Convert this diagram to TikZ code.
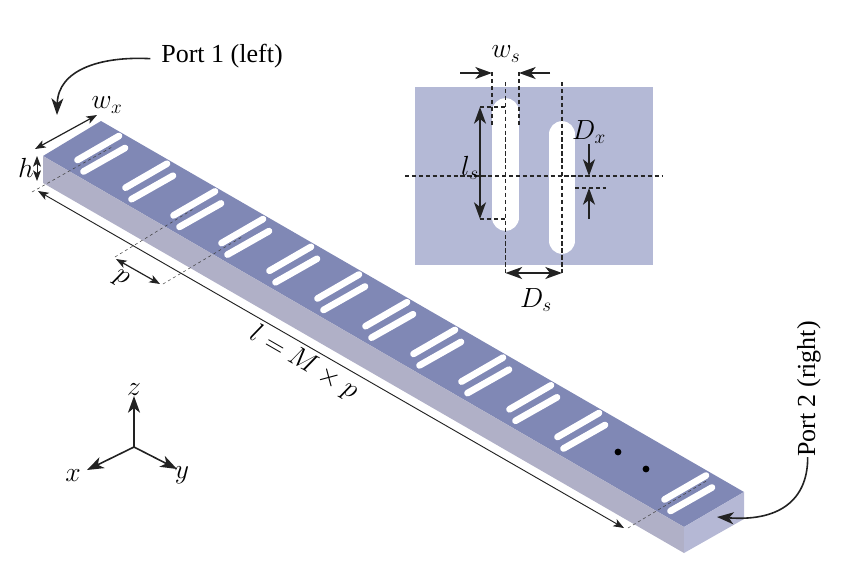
\documentclass[tikz,border=0pt]{standalone}
\usepackage{fontspec}
\setmainfont{Liberation Serif}
\usetikzlibrary{arrows.meta}
\definecolor{topc}{HTML}{8088B5}
\definecolor{leftc}{HTML}{B0B0C7}
\definecolor{rightc}{HTML}{B5B8D5}
\definecolor{insetc}{HTML}{B4B9D6}
\definecolor{inkc}{HTML}{222222}
\tikzset{
  lab/.style={inner sep=0pt,text=black,font=\fontsize{20.74}{24}\selectfont},
  portlab/.style={inner sep=0pt,text=black,font=\fontsize{19.5}{22}\selectfont},
  tip/.style={-{Stealth[length=12.5pt,width=9pt,inset=3.5pt]}},
  dtip/.style={{Stealth[length=12.5pt,width=9pt,inset=3.5pt]}-{Stealth[length=12.5pt,width=9pt,inset=3.5pt]}},
  smalltip/.style={{Stealth[length=8pt,width=6pt,inset=2pt]}-{Stealth[length=8pt,width=6pt,inset=2pt]}},
  fatline/.style={draw=inkc,line width=1.2pt},
  thinline/.style={draw=inkc,line width=0.7pt},
  dim/.style={draw=black!85,line width=0.85pt,dash pattern=on 3.2pt off 2pt},
  faint/.style={draw=black!75,line width=0.4pt,dash pattern=on 2.2pt off 2.2pt},
  slot/.style={draw=white,line width=5pt,line cap=round},
  bigslot/.style={draw=white,line width=20pt,line cap=round},
}
\begin{document}
\begin{tikzpicture}[x=0.75pt,y=-0.75pt]
\useasboundingbox (0,0) rectangle (847,569);
% block
\coordinate (tb) at (101,121);
\coordinate (tl) at (43,156);
\coordinate (tr) at (744,492);
\coordinate (tf) at (684,527);
\coordinate (bl) at (43,183);
\coordinate (bf) at (684,553);
\coordinate (br) at (744,519);
\fill[topc] (tb) -- (tr) -- (tf) -- (tl) -- cycle;
\fill[leftc] (tl) -- (tf) -- (bf) -- (bl) -- cycle;
\fill[rightc] (tf) -- (tr) -- (br) -- (bf) -- cycle;
% slots
\foreach \dx/\dy in {0/0,48/27.7,96/55.4,144/83.1,192/110.8,240/138.5,288/166.2,336/193.9,384/221.6,432/249.3,480/277,587/339.5}{
  \draw[slot] ({77.5+\dx},{160+\dy}) -- ({119+\dx},{136+\dy});
  \draw[slot] ({83.5+\dx},{171.5+\dy}) -- ({125+\dx},{148+\dy});
}
\fill[black] (618,452) circle[radius=3.4];
\fill[black] (646,469) circle[radius=3.4];
% faint guides
\coordinate (g1a) at (32,192); \coordinate (g1b) at (112,147);
\coordinate (g2a) at (115,257); \coordinate (g2b) at (195,208);
\coordinate (g3a) at (163,284); \coordinate (g3b) at (242,237);
\coordinate (g4a) at (628,528); \coordinate (g4b) at (708,480);
\draw[faint] (g1a) -- (g1b);
\draw[faint] (g2a) -- (g2b);
\draw[faint] (g3a) -- (g3b);
\draw[faint] (g4a) -- (g4b);
% dimensions on the block
\coordinate (wa) at (35,149); \coordinate (wb) at (97,115);
\coordinate (ha) at (37,156); \coordinate (hb) at (37,181);
\coordinate (pa) at (116,259); \coordinate (pb) at (160,284);
\coordinate (la) at (38,191); \coordinate (lb) at (624,528);
\draw[thinline,smalltip,line width=0.9pt] (wa) -- (wb);
\draw[thinline,smalltip] (ha) -- (hb);
\draw[thinline,smalltip,line width=0.9pt] (pa) -- (pb);
\draw[thinline,smalltip] (la) -- (lb);
\node[lab] (wxlab) at (107,105) {$w_x$};
\node[lab] (hlab) at (26,168) {$h$};
\node[lab,rotate=-30] (plab) at (121,279) {$p$};
\node[lab,rotate=-30] (llab) at (304,363) {$l = M \times p$};
% ports
\node[portlab] (port1) at (222,56) {Port 1 (left)};
\node[portlab,rotate=90] (port2) at (809,389) {Port 2 (right)};
\coordinate (p1end) at (57,115);
\coordinate (p2end) at (717,517);
\draw[fatline,tip] (port1.west) ++(-8pt,-2pt) coordinate (p1s) .. controls (100,56) and (58,70) .. (p1end);
\draw[fatline,tip] (port2.west) ++(-1pt,0pt) coordinate (p2s) .. controls (808,495) and (785,522) .. (p2end);
% axes
\coordinate (o) at (134,447);
\coordinate (ze) at (134,396);
\coordinate (xe) at (87,470);
\coordinate (ye) at (177,469);
\draw[fatline,tip] (o) -- (ze);
\draw[fatline,tip] (o) -- (xe);
\draw[fatline,tip] (o) -- (ye);
\node[lab] (zlab) at (134,390) {$z$};
\node[lab] (xlab) at (73,476) {$x$};
\node[lab] (ylab) at (182,475) {$y$};
% inset
\fill[insetc] (415,87) rectangle (653,265);
\draw[bigslot] (505.5,111.5) -- (505.5,217.5);
\draw[bigslot] (562,134.5) -- (562,240.5);
\draw[dim] (405,176) -- (663,176);
\coordinate (v1a) at (505.5,82); \coordinate (v1b) at (505.5,273);
\coordinate (v2a) at (562,82); \coordinate (v2b) at (562,273);
\draw[dim] (v1a) -- (v1b);
\draw[dim] (v2a) -- (v2b);
\draw[dim] (492,72) -- (492,126);
\draw[dim] (519,72) -- (519,126);
\draw[dim] (480,107) -- (505.5,107);
\draw[dim] (480,219) -- (505.5,219);
\draw[dim] (575,188) -- (606,188);
\coordinate (wsl) at (460,73); \coordinate (wsr) at (492,73);
\coordinate (wsl2) at (550,73); \coordinate (wsr2) at (519,73);
\draw[fatline,tip] (wsl) -- (wsr);
\draw[fatline,tip] (wsl2) -- (wsr2);
\coordinate (lsa) at (480,107); \coordinate (lsb) at (480,219);
\draw[fatline,dtip] (lsa) -- (lsb);
\draw[fatline,dtip] (v1b) -- (v2b);
\coordinate (dxa) at (589,144); \coordinate (dxb) at (589,176);
\coordinate (dxc) at (589,219); \coordinate (dxd) at (589,188);
\draw[fatline,tip] (dxa) -- (dxb);
\draw[fatline,tip] (dxc) -- (dxd);
\node[lab] (wslab) at (506,54) {$w_s$};
\node[lab] (lslab) at (470,168) {$l_s$};
\node[lab] (dxlab) at (589,132) {$D_x$};
\node[lab] (dslab) at (536,300) {$D_s$};
\end{tikzpicture}
\end{document}
